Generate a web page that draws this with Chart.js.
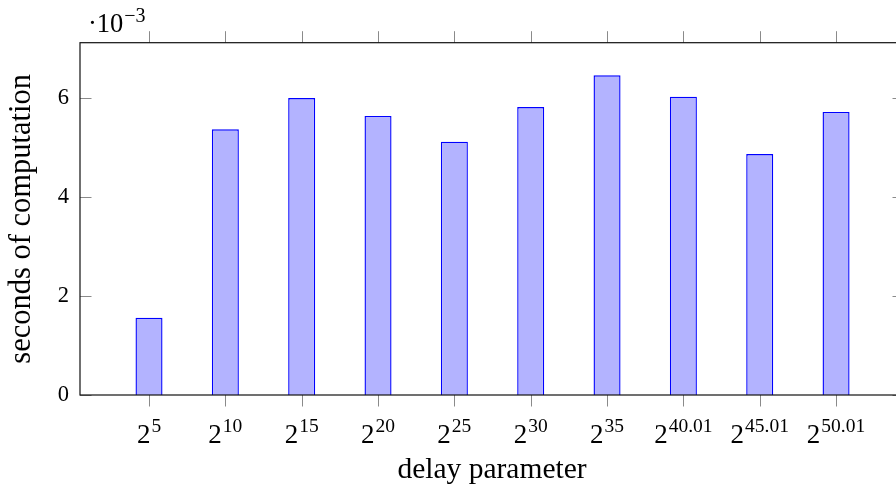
<!DOCTYPE html>
<html>
<head>
<meta charset="utf-8">
<script src="https://cdn.jsdelivr.net/npm/chart.js@4.4.1/dist/chart.umd.min.js"></script>
<style>
  html, body { margin: 0; padding: 0; background: #fff; overflow: hidden; width: 896px; height: 491px; }
  #c { display: block; }
</style>
</head>
<body>
<canvas id="c" width="912" height="491"></canvas>
<script>
// ---- data ----
const categories = ['5', '10', '15', '20', '25', '30', '35', '40.01', '45.01', '50.01'];
const seconds = [1.56e-3, 5.37e-3, 6.00e-3, 5.64e-3, 5.12e-3, 5.82e-3, 6.46e-3, 6.03e-3, 4.87e-3, 5.72e-3];
const yTickValues = [0, 2e-3, 4e-3, 6e-3];
const yTickLabels = ['0', '2', '4', '6'];
const xTitle = 'delay parameter';
const yTitle = 'seconds of computation';
const multiplierBase = '\u00B710';
const multiplierExp = '\u22123';

const FONT = '"Liberation Serif", "DejaVu Serif", serif';

const framePlugin = {
  id: 'frame',
  afterDraw(chart) {
    const ctx = chart.ctx;
    const a = chart.chartArea;
    const xs = chart.scales.x, ys = chart.scales.y;
    ctx.save();
    // ticks
    ctx.strokeStyle = '#8a8a8a';
    ctx.lineWidth = 1;
    const tl = 11.5;
    yTickValues.forEach(v => {
      const py = Math.round(ys.getPixelForValue(v)) + 0.5;
      ctx.beginPath();
      ctx.moveTo(a.left, py); ctx.lineTo(a.left + tl, py);
      ctx.moveTo(a.right - tl, py); ctx.lineTo(a.right, py);
      ctx.stroke();
    });
    categories.forEach((c, i) => {
      const px = Math.round(xs.getPixelForValue(i)) + 0.5;
      ctx.beginPath();
      ctx.moveTo(px, a.bottom); ctx.lineTo(px, a.bottom + tl);
      ctx.moveTo(px, a.top - tl); ctx.lineTo(px, a.top);
      ctx.stroke();
    });
    // frame
    ctx.strokeStyle = '#111';
    ctx.lineWidth = 1.2;
    ctx.strokeRect(a.left, a.top, a.right - a.left, a.bottom - a.top);
    // x tick labels with superscripts
    ctx.fillStyle = '#000';
    ctx.textBaseline = 'alphabetic';
    ctx.textAlign = 'left';
    categories.forEach((c, i) => {
      const px = xs.getPixelForValue(i);
      ctx.font = '27px ' + FONT;
      const wb = ctx.measureText('2').width;
      ctx.font = '19.5px ' + FONT;
      const we = ctx.measureText(c).width;
      const start = px - (wb + we + 1) / 2;
      ctx.font = '27px ' + FONT;
      ctx.fillText('2', start, a.bottom + 47.5);
      ctx.font = '19.5px ' + FONT;
      ctx.fillText(c, start + wb + 1, a.bottom + 37);
    });
    // multiplier
    ctx.font = '26.5px ' + FONT;
    ctx.fillText(multiplierBase, 88, a.top - 10.4);
    const wm = ctx.measureText(multiplierBase).width;
    ctx.font = '20px ' + FONT;
    ctx.fillText(multiplierExp, 88 + wm + 1, a.top - 20.8);
    ctx.restore();
  }
};

new Chart(document.getElementById('c'), {
  type: 'bar',
  data: {
    datasets: [{
      data: seconds.map((v, i) => ({ x: i, y: v })),
      backgroundColor: '#b3b3ff',
      borderColor: '#0000ff',
      borderWidth: 1.4,
      barPercentage: 0.354,
      categoryPercentage: 1
    }]
  },
  options: {
    responsive: false,
    devicePixelRatio: 1,
    animation: false,
    layout: { padding: { top: 42.7, right: 8, left: 0, bottom: 0 } },
    plugins: { legend: { display: false }, tooltip: { enabled: false } },
    scales: {
      x: {
        type: 'linear',
        offset: false,
        min: -0.904,
        max: 9.89,
        afterBuildTicks: s => { s.ticks = categories.map((c, i) => ({ value: i })); },
        afterFit: s => { s.height = 96; },
        grid: { display: false, drawTicks: false, offset: false },
        border: { display: false },
        ticks: { display: false },
        title: {
          display: true, text: xTitle, color: '#000',
          font: { family: FONT, size: 29.5 },
          padding: { top: 0, bottom: 3.5 }
        }
      },
      y: {
        min: 0,
        max: 7.12e-3,
        afterBuildTicks: s => { s.ticks = yTickValues.map(v => ({ value: v })); },
        afterFit: s => { s.width = 80; },
        grid: { display: false, drawTicks: false },
        border: { display: false },
        ticks: {
          color: '#000',
          font: { family: FONT, size: 22.5 },
          padding: 11,
          callback: (v, i) => yTickLabels[i]
        },
        title: {
          display: true, text: yTitle, color: '#000',
          font: { family: FONT, size: 30.5 },
          padding: { top: 4, bottom: 0 }
        }
      }
    }
  },
  plugins: [framePlugin]
});
</script>
</body>
</html>
